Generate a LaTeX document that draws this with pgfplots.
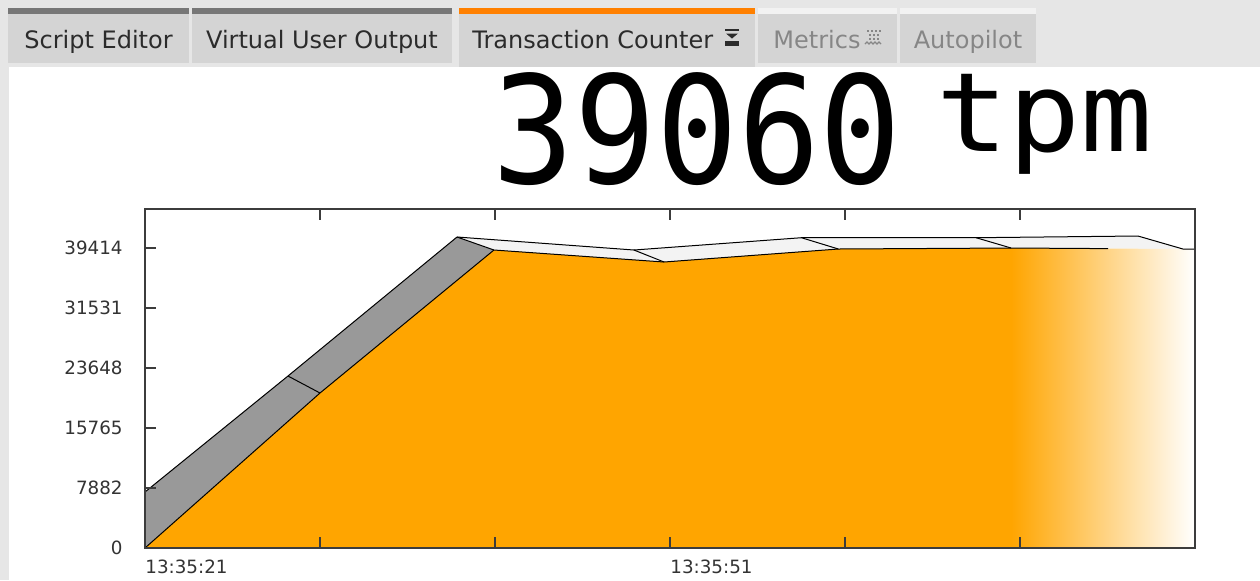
\documentclass[border=0pt]{standalone}
\usepackage{fontspec}
\setmainfont{DejaVu Sans}
\newfontfamily\monofnt{DejaVu Sans Mono}
\usepackage{graphicx}
\usepackage{pgfplots}
\pgfplotsset{compat=1.18}
\definecolor{bggray}{HTML}{E6E6E6}
\definecolor{tabgray}{HTML}{D4D4D4}
\definecolor{bardark}{HTML}{777777}
\definecolor{barorange}{HTML}{FF8000}
\definecolor{barlight}{HTML}{F2F2F2}
\definecolor{txtdark}{HTML}{2B2B2B}
\definecolor{txtgray}{HTML}{868686}
\definecolor{areaorange}{HTML}{FFA500}
\definecolor{facegray}{HTML}{999999}
\definecolor{facelight}{HTML}{F3F3F3}
\definecolor{axisc}{HTML}{3C3C3C}
\definecolor{ticktext}{HTML}{333333}
\begin{document}
\begin{tikzpicture}
\useasboundingbox (0,0) rectangle (630pt,-290pt);
\begin{scope}[x=0.5pt,y=-0.5pt]
\fill[bggray] (0,0) rectangle (1260,580);
\fill[white] (9,67) rectangle (1260,580);
% tab 1
\fill[tabgray] (8,8) rectangle (189,63);
\fill[bardark] (8,8) rectangle (189,14);
\node[anchor=base, inner sep=0pt, font=\fontsize{12pt}{14pt}\selectfont, text=txtdark] at (98.5,48) {Script Editor};
% tab 2
\fill[tabgray] (192,8) rectangle (452,63);
\fill[bardark] (192,8) rectangle (452,14);
\node[anchor=base, inner sep=0pt, font=\fontsize{12pt}{14pt}\selectfont, text=txtdark] at (322,48) {Virtual User Output};
% tab 3 (active)
\fill[tabgray] (459,8) rectangle (755,67);
\fill[barorange] (459,8) rectangle (755,14);
\node[anchor=base west, inner sep=0pt, font=\fontsize{12pt}{14pt}\selectfont, text=txtdark] at (472,48) {Transaction Counter};
\draw[txtdark, line width=0.6pt] (725,30) -- (739,30);
\fill[txtdark] (726,33.5) -- (738,33.5) -- (732,38.5) -- cycle;
\fill[txtdark] (725,41) rectangle (739,46);
% tab 4
\fill[tabgray] (758,8) rectangle (897,63);
\fill[barlight] (758,8) rectangle (897,14);
\node[anchor=base west, inner sep=0pt, font=\fontsize{12pt}{14pt}\selectfont, text=txtgray] at (773,48) {Metrics};
\foreach \xx in {867,871,875,879}{\fill[txtgray] (\xx,30) rectangle (\xx+1.6,31.6);}
\foreach \xx in {869,873,877}{\fill[txtgray] (\xx,34) rectangle (\xx+1.6,35.6);\fill[txtgray] (\xx,38) rectangle (\xx+1.6,39.6);}
\draw[txtgray, line width=0.6pt] (865,44) -- (867,42) -- (869,44) -- (871,42) -- (873,44) -- (875,42) -- (877,44) -- (879,42) -- (881,44);
% tab 5
\fill[tabgray] (900,8) rectangle (1036,63);
\fill[barlight] (900,8) rectangle (1036,14);
\node[anchor=base, inner sep=0pt, font=\fontsize{12pt}{14pt}\selectfont, text=txtgray] at (968,48) {Autopilot};
% big counter
\node[anchor=base west, inner sep=0pt, text=black] at (492,183) {\scalebox{0.91}[1]{\monofnt\fontsize{74.75pt}{80pt}\selectfont 39060}};
\node[anchor=base west, inner sep=0pt, text=black] at (936,151) {\scalebox{1.09}[1]{\monofnt\fontsize{55pt}{60pt}\selectfont tpm}};
\end{scope}
\begin{axis}[
  at={(72.5pt,-274pt)}, anchor=south west,
  scale only axis, width=525pt, height=169.5pt,
  xmin=0, xmax=60, ymin=0, ymax=44538,
  axis line style={axisc, line width=1pt},
  xtick={0,10,20,30,40,50,60},
  xticklabels={13:35:21,,,13:35:51,,,},
  ytick={0,7882.8,15765.6,23648.4,31531.2,39414},
  yticklabels={0,7882,15765,23648,31531,39414},
  scaled y ticks=false, scaled x ticks=false,
  tick align=inside, xtick pos=both, ytick pos=left,
  major tick length=5.5pt,
  tick style={axisc, line width=0.6pt},
  ticklabel style={font=\fontsize{9.15pt}{11pt}\selectfont, text=ticktext},
  xticklabel style={anchor=north west, inner sep=0pt, yshift=-6pt},
  yticklabel style={anchor=east, inner sep=0pt, xshift=-11pt},
  /pgf/number format/assume math mode=true,
  axis on top,
]
% side faces of the ribbon
\addplot[fill=facegray, draw=none] coordinates {(0,0) (10,20364) (8.17,22597) (0,7357)};
\addplot[fill=facegray, draw=none] coordinates {(10,20364) (19.94,39151) (17.83,40859) (8.17,22597)};
\addplot[fill=facelight, draw=none] coordinates {(19.94,39151) (29.66,37575) (27.94,39151) (17.83,40859)};
\addplot[fill=facelight, draw=none] coordinates {(29.66,37575) (39.62,39283) (37.51,40767) (27.94,39151)};
\addplot[fill=facelight, draw=none] coordinates {(39.62,39283) (49.49,39414) (47.49,40767) (37.51,40767)};
\addplot[fill=facelight, draw=none] coordinates {(49.49,39414) (59.31,39283) (56.74,40991) (47.49,40767)};
% front area
\addplot[fill=areaorange, draw=none] coordinates {(0,0) (10,20364) (19.94,39151) (29.66,37575) (39.62,39283) (49.49,39414)} \closedcycle;
\addplot[draw=none, left color=areaorange, right color=white] coordinates {(49.49,39414) (59.31,39283) (60,39283)} \closedcycle;
% edges
\addplot[black, line width=0.5pt] coordinates {(0,7357) (8.17,22597) (17.83,40859) (27.94,39151) (37.51,40767) (47.49,40767) (56.74,40991) (59.31,39283) (60,39283)};
\addplot[black, line width=0.5pt] coordinates {(0,0) (10,20364) (19.94,39151) (29.66,37575) (39.62,39283) (49.49,39414) (55.03,39335)};
\addplot[black, line width=0.5pt] coordinates {(8.17,22597) (10,20364)};
\addplot[black, line width=0.5pt] coordinates {(17.83,40859) (19.94,39151)};
\addplot[black, line width=0.5pt] coordinates {(27.94,39151) (29.66,37575)};
\addplot[black, line width=0.5pt] coordinates {(37.51,40767) (39.62,39283)};
\addplot[black, line width=0.5pt] coordinates {(47.49,40767) (49.49,39414)};
\end{axis}
\end{tikzpicture}
\end{document}
